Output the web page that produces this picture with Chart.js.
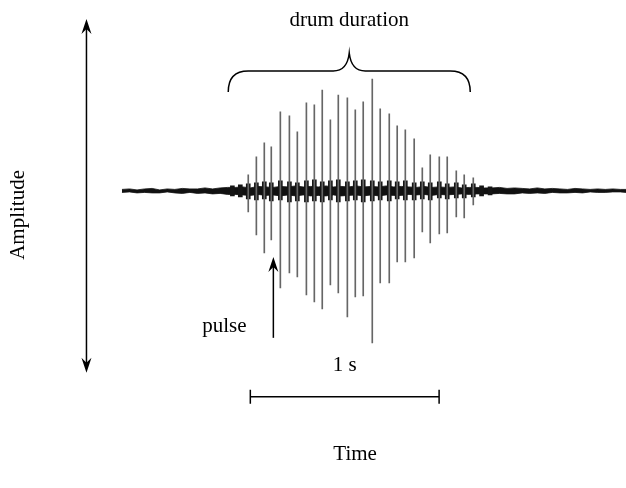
<!DOCTYPE html>
<html><head><meta charset="utf-8">
<script src="https://cdn.jsdelivr.net/npm/chart.js@4.4.1/dist/chart.umd.min.js"></script>
<style>html,body{margin:0;padding:0;background:#fff}canvas{display:block}</style>
</head><body>
<canvas id="c" width="626" height="488"></canvas>
<script>
// ---- data (time in s, amplitude in arbitrary units, baseline = 0) ----
const pulseTimes = [-0.011,0.032,0.074,0.111,0.159,0.207,0.249,0.297,0.339,0.381,0.424,0.466,0.514,0.556,0.598,0.646,0.688,0.736,0.778,0.821,0.868,0.911,0.953,1.001,1.043,1.091,1.133,1.181];
const pulseUp    = [0.16,0.34,0.48,0.44,0.79,0.75,0.59,0.88,0.86,1.01,0.71,0.96,0.93,0.81,0.89,1.12,0.82,0.77,0.65,0.61,0.52,0.23,0.36,0.34,0.34,0.20,0.16,0.13];
const pulseDown  = [-0.21,-0.44,-0.62,-0.49,-0.97,-0.82,-0.86,-1.04,-1.11,-1.18,-0.94,-1.02,-1.26,-1.06,-1.05,-1.52,-0.92,-0.92,-0.71,-0.71,-0.67,-0.41,-0.52,-0.43,-0.42,-0.26,-0.27,-0.14];

const blobTimes = [-0.095,-0.053,-0.011,0.032,0.074,0.111,0.159,0.207,0.249,0.297,0.339,0.381,0.424,0.466,0.514,0.556,0.598,0.646,0.688,0.736,0.778,0.821,0.868,0.911,0.953,1.001,1.043,1.091,1.133,1.181,1.225,1.27];
const blobUp    = [0.05,0.06,0.07,0.08,0.09,0.08,0.10,0.09,0.08,0.10,0.11,0.09,0.10,0.11,0.09,0.10,0.11,0.10,0.09,0.10,0.09,0.10,0.08,0.09,0.08,0.09,0.07,0.08,0.06,0.07,0.05,0.04];
const blobDown  = [-0.05,-0.06,-0.08,-0.09,-0.08,-0.10,-0.09,-0.11,-0.10,-0.11,-0.10,-0.11,-0.09,-0.11,-0.10,-0.09,-0.11,-0.10,-0.09,-0.10,-0.08,-0.09,-0.09,-0.08,-0.09,-0.07,-0.08,-0.07,-0.07,-0.06,-0.05,-0.04];

const noiseTimes = [-0.68,-0.64,-0.60,-0.56,-0.52,-0.48,-0.44,-0.40,-0.36,-0.32,-0.28,-0.24,-0.20,-0.16,-0.12,
  -0.08,-0.04,0.00,0.04,0.08,0.12,0.16,0.20,0.24,0.28,0.32,0.36,0.40,0.44,0.48,0.52,0.56,0.60,0.64,0.68,0.72,0.76,0.80,0.84,0.88,0.92,0.96,1.00,1.04,1.08,1.12,1.16,1.20,1.24,
  1.28,1.32,1.36,1.40,1.44,1.48,1.52,1.56,1.60,1.64,1.68,1.72,1.76,1.80,1.84,1.88,1.92,1.96,1.99];
const noiseUp = [0.015,0.02,0.01,0.02,0.025,0.01,0.02,0.015,0.025,0.02,0.02,0.03,0.02,0.03,0.035,
  0.035,0.04,0.03,0.045,0.04,0.035,0.045,0.04,0.05,0.04,0.045,0.04,0.05,0.04,0.045,0.04,0.05,0.04,0.045,0.04,0.05,0.04,0.045,0.04,0.035,0.045,0.035,0.04,0.035,0.04,0.03,0.035,0.035,0.03,
  0.03,0.035,0.025,0.03,0.025,0.02,0.03,0.02,0.025,0.02,0.015,0.025,0.02,0.015,0.02,0.015,0.02,0.015,0.015];
const noiseDown = [-0.015,-0.01,-0.02,-0.015,-0.02,-0.02,-0.01,-0.02,-0.025,-0.015,-0.025,-0.02,-0.03,-0.025,-0.035,
  -0.035,-0.04,-0.045,-0.035,-0.045,-0.04,-0.05,-0.04,-0.05,-0.04,-0.05,-0.045,-0.05,-0.04,-0.05,-0.045,-0.04,-0.05,-0.04,-0.05,-0.04,-0.045,-0.045,-0.035,-0.04,-0.035,-0.045,-0.035,-0.04,-0.035,-0.03,-0.035,-0.03,-0.03,
  -0.03,-0.025,-0.03,-0.03,-0.02,-0.025,-0.02,-0.025,-0.015,-0.02,-0.02,-0.015,-0.02,-0.01,-0.015,-0.015,-0.01,-0.01,-0.015];

const scaleBar = [0, 1];          // 1 s scale bar (s)
const scaleBarLevel = -2.06;
const drumSpan = [-0.117, 1.165]; // brace extent (s)
const braceLevels = {end: 0.99, line: 1.20, cusp: 1.38};
const ampArrow = {t: -0.868, top: 1.72, bottom: -1.82};
const pulseArrow = {t: 0.122, from: -1.47, to: -0.66};
const labels = {drum: 'drum duration', pulse: 'pulse', sec: '1 s', xTitle: 'Time', yTitle: 'Amplitude'};

const FONT = '"Liberation Serif", "Times New Roman", serif';

const toXY = (ts, vs) => ts.map((t, i) => ({x: t, y: vs[i]}));
const toRange = (ts, lo, hi) => ts.map((t, i) => ({x: t, y: [lo[i], hi[i]]}));

const annot = {
  id: 'annot',
  afterDraw(chart) {
    const {ctx, scales: {x, y}} = chart;
    const px = v => x.getPixelForValue(v), py = v => y.getPixelForValue(v);
    ctx.save();
    ctx.strokeStyle = '#000'; ctx.fillStyle = '#000'; ctx.lineWidth = 1.5;
    const head = (hx, hy, dir) => { // dir -1 = up, 1 = down
      ctx.beginPath();
      ctx.moveTo(hx, hy);
      ctx.lineTo(hx - 5, hy - dir * 15);
      ctx.lineTo(hx, hy - dir * 10);
      ctx.lineTo(hx + 5, hy - dir * 15);
      ctx.closePath(); ctx.fill();
    };
    // amplitude double arrow
    const ax = px(ampArrow.t), a1 = py(ampArrow.top), a2 = py(ampArrow.bottom);
    ctx.beginPath(); ctx.moveTo(ax, a1 + 6); ctx.lineTo(ax, a2 - 6); ctx.stroke();
    head(ax, a1, -1); head(ax, a2, 1);
    // pulse arrow
    const qx = px(pulseArrow.t);
    ctx.beginPath(); ctx.moveTo(qx, py(pulseArrow.from)); ctx.lineTo(qx, py(pulseArrow.to) + 6); ctx.stroke();
    head(qx, py(pulseArrow.to), -1);
    // brace
    const b1 = px(drumSpan[0]), b2 = px(drumSpan[1]), bm = (b1 + b2) / 2;
    const ye = py(braceLevels.end), yl = py(braceLevels.line), yc = py(braceLevels.cusp);
    ctx.beginPath();
    ctx.moveTo(b1, ye);
    ctx.quadraticCurveTo(b1, yl, b1 + 20, yl);
    ctx.lineTo(bm - 16, yl);
    ctx.quadraticCurveTo(bm - 2, yl, bm, yc);
    ctx.quadraticCurveTo(bm + 2, yl, bm + 16, yl);
    ctx.lineTo(b2 - 20, yl);
    ctx.quadraticCurveTo(b2, yl, b2, ye);
    ctx.stroke();
    // scale bar
    const s1 = px(scaleBar[0]), s2 = px(scaleBar[1]), sy = py(scaleBarLevel);
    ctx.beginPath();
    ctx.moveTo(s1, sy); ctx.lineTo(s2, sy);
    ctx.moveTo(s1, sy - 7); ctx.lineTo(s1, sy + 7);
    ctx.moveTo(s2, sy - 7); ctx.lineTo(s2, sy + 7);
    ctx.stroke();
    // texts
    ctx.font = '21px ' + FONT;
    ctx.textBaseline = 'middle';
    ctx.textAlign = 'center';
    ctx.fillText(labels.drum, bm, py(1.71));
    ctx.fillText(labels.sec, px(0.5), py(-1.75));
    ctx.textAlign = 'right';
    ctx.fillText(labels.pulse, px(-0.02), py(-1.36));
    ctx.restore();
  }
};

new Chart(document.getElementById('c'), {
  type: 'bar',
  data: {
    datasets: [
      {type: 'line', data: toXY(noiseTimes, noiseUp), borderColor: '#111', backgroundColor: '#111', borderWidth: 0.8, pointRadius: 0, fill: '+1', order: 3},
      {type: 'line', data: toXY(noiseTimes, noiseDown), borderColor: '#111', backgroundColor: '#111', borderWidth: 0.8, pointRadius: 0, fill: false, order: 3},
      {type: 'bar', data: toRange(blobTimes, blobDown, blobUp), backgroundColor: '#151515', barThickness: 4, grouped: false, order: 2},
      {type: 'bar', data: toRange(pulseTimes, pulseDown, pulseUp), backgroundColor: '#666', barThickness: 1, grouped: false, order: 1}
    ]
  },
  options: {
    responsive: false, animation: false, devicePixelRatio: 1,
    layout: {padding: 0},
    plugins: {legend: {display: false}, tooltip: {enabled: false}},
    scales: {
      x: {type: 'linear', min: -0.88, max: 1.99, offset: false,
          ticks: {display: false}, grid: {display: false, drawTicks: false}, border: {display: false},
          title: {display: true, text: labels.xTitle, color: '#000', font: {family: FONT, size: 21}, padding: {top: 12, bottom: 21}}},
      y: {type: 'linear', min: -2.39, max: 1.91,
          ticks: {display: false}, grid: {display: false, drawTicks: false}, border: {display: false},
          title: {display: true, text: labels.yTitle, color: '#000', font: {family: FONT, size: 21}, padding: {top: 6, bottom: 53}}}
    }
  },
  plugins: [annot]
});
</script>
</body></html>
